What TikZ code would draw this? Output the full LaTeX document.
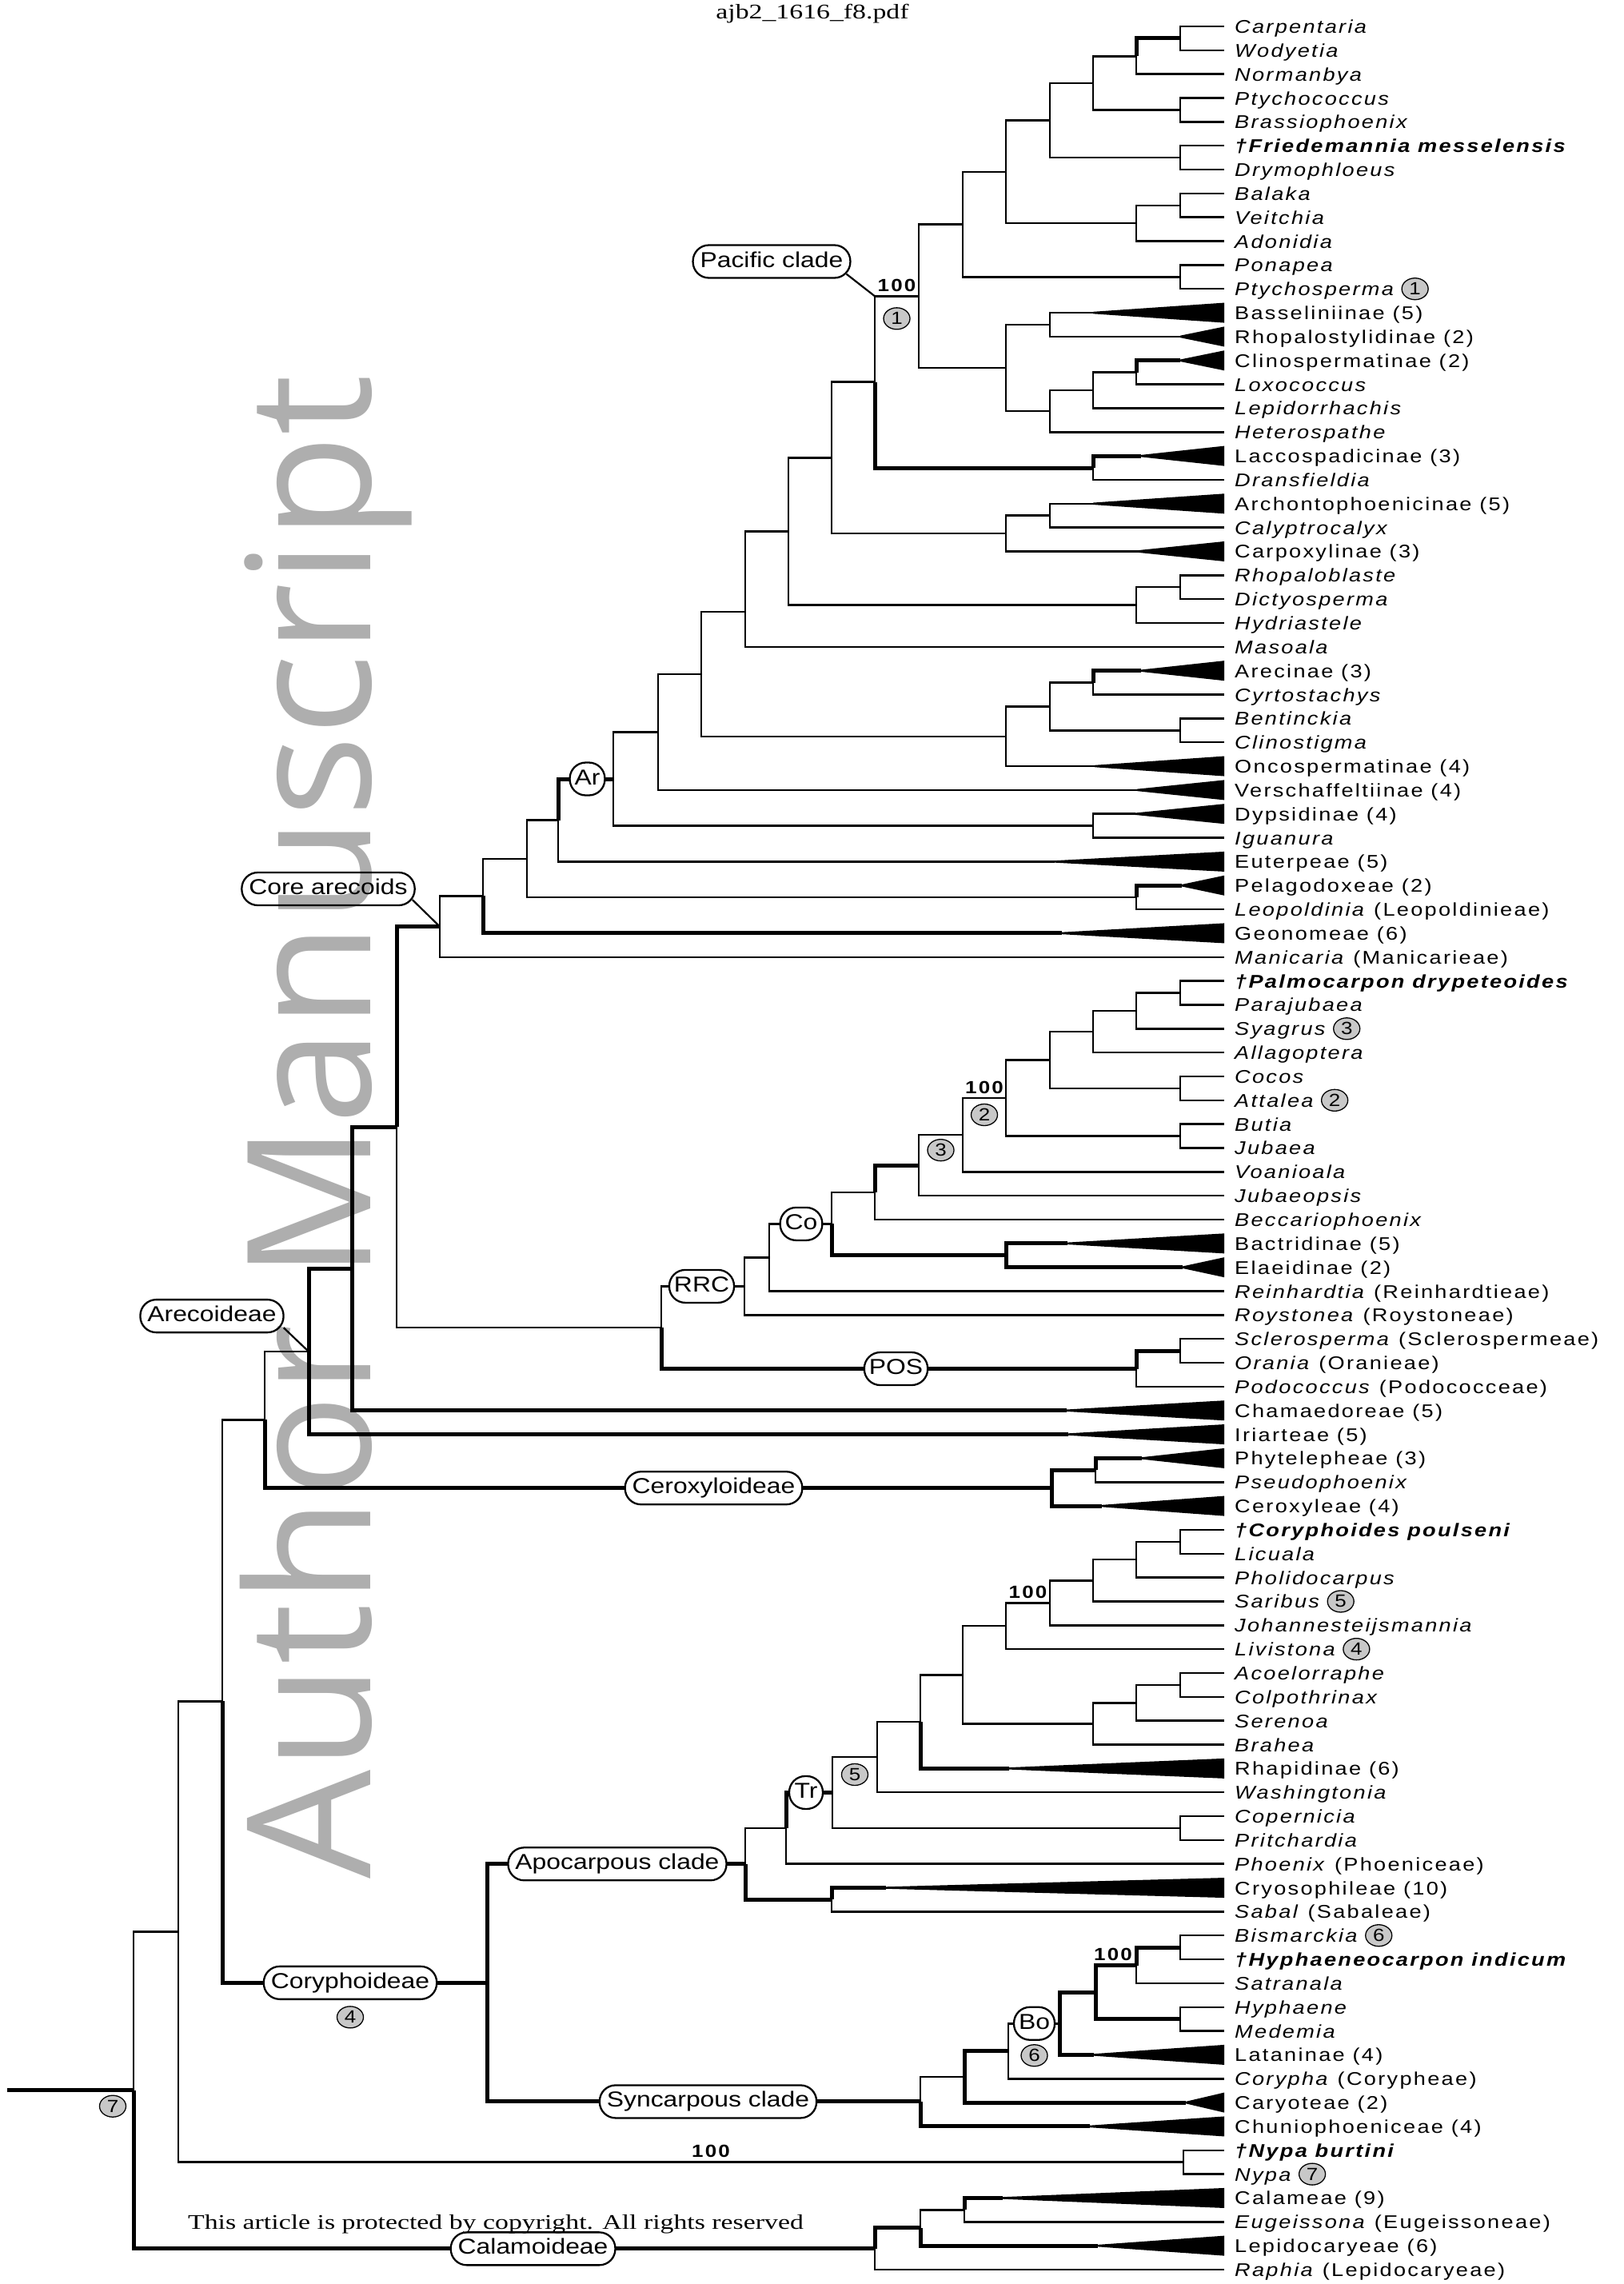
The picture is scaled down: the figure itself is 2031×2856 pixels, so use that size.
\documentclass[tikz,border=0pt]{standalone}
\usepackage{fontspec}
\usepackage{graphicx}
\usetikzlibrary{calc,shapes.geometric}
\setmainfont{Liberation Serif}
\newfontfamily\labfont{Liberation Sans}[FakeStretch=1.18,LetterSpace=10]
\newfontfamily\tagfont{Liberation Sans}[FakeStretch=1.18]
\newfontfamily\numfont{Liberation Sans}[FakeStretch=1.18]
\newfontfamily\wmfont{Open Sans}
\definecolor{wmgray}{RGB}{174,174,174}
\definecolor{numgray}{RGB}{200,200,200}
\newcommand\lfy[1]{33+(#1-1)*29.84}
\newcommand\leaf[2]{\coordinate (L#1) at (1531,{\lfy{#1}});
  \node[lab] (L#1t) at (1544,{\lfy{#1}+8.5}) {#2};}
\newcommand\tleaf[3]{\coordinate (L#1) at (#2,{\lfy{#1}});
  \fill ([yshift=1.25pt]L#1) -- (1531,{\lfy{#1}-12.5}) -- (1531,{\lfy{#1}+12.5}) -- ([yshift=-1.25pt]L#1) -- cycle;
  \node[lab] (L#1t) at (1544,{\lfy{#1}+8.5}) {#3};}
\newcommand\lnum[2]{\node[num,anchor=west] at ($(L#1t.east |- L#1)+(7,0)$) {#2};}
\newcommand\cl[6]{\path let \p1=(#3), \p2=(#5) in coordinate (#1) at (#2pt,{0.5*\y1+0.5*\y2});
  \draw[br,#4] (#1) |- (#3); \draw[br,#6] (#1) |- (#5);}
\newcommand\clY[7]{\coordinate (#1) at (#2,#3);
  \draw[br,#5] (#1) |- (#4); \draw[br,#7] (#1) |- (#6);}
\newcommand\fos[1]{\textbf{\textit{†#1}}}
\tikzset{
  br/.style={line width=2.5pt,line join=miter},
  bn/.style={line width=2.5pt},
  bk/.style={line width=5pt},
  lab/.style={anchor=base west,inner sep=0pt,font=\labfont\fontsize{23}{23}\selectfont},
  tag/.style={draw,line width=2.3pt,fill=white,rounded corners=20pt,minimum height=41pt,minimum width=42pt,
    inner xsep=6pt,inner ysep=0pt,text height=19.5pt,text depth=5.5pt,font=\tagfont\fontsize{27}{27}\selectfont},
  bigtag/.style={tag,inner xsep=9pt},
  num/.style={ellipse,draw,line width=1.3pt,fill=numgray,minimum width=33pt,minimum height=27pt,inner sep=0pt,
    font=\numfont\fontsize{22}{22}\selectfont},
  hund/.style={anchor=base,inner sep=0pt,font=\labfont\bfseries\fontsize{22}{22}\selectfont},
  ldr/.style={line width=2.2pt}
}
\begin{document}
\begin{tikzpicture}[x=1pt,y=-1pt]
\useasboundingbox (0,0) rectangle (2031,2856);
\fill[white] (0,0) rectangle (2031,2856);
% watermark
\node[rotate=90,anchor=base west,inner sep=0pt,text=wmgray,font=\wmfont\fontsize{215}{215}\selectfont] (wm) at (463,2350) {Author Manuscript};
% title
\node[inner sep=0pt,font=\fontsize{26}{26}\selectfont] (title) at (1016,17) {\scalebox{1.3}[1]{ajb2\_1616\_f8.pdf}};
% leaves
\leaf{1}{\textit{Carpentaria}}
\leaf{2}{\textit{Wodyetia}}
\leaf{3}{\textit{Normanbya}}
\leaf{4}{\textit{Ptychococcus}}
\leaf{5}{\textit{Brassiophoenix}}
\leaf{6}{\fos{Friedemannia messelensis}}
\leaf{7}{\textit{Drymophloeus}}
\leaf{8}{\textit{Balaka}}
\leaf{9}{\textit{Veitchia}}
\leaf{10}{\textit{Adonidia}}
\leaf{11}{\textit{Ponapea}}
\leaf{12}{\textit{Ptychosperma}}
\tleaf{13}{1367}{Basseliniinae (5)}
\tleaf{14}{1476}{Rhopalostylidinae (2)}
\tleaf{15}{1476}{Clinospermatinae (2)}
\leaf{16}{\textit{Loxococcus}}
\leaf{17}{\textit{Lepidorrhachis}}
\leaf{18}{\textit{Heterospathe}}
\tleaf{19}{1427}{Laccospadicinae (3)}
\leaf{20}{\textit{Dransfieldia}}
\tleaf{21}{1367}{Archontophoenicinae (5)}
\leaf{22}{\textit{Calyptrocalyx}}
\tleaf{23}{1422}{Carpoxylinae (3)}
\leaf{24}{\textit{Rhopaloblaste}}
\leaf{25}{\textit{Dictyosperma}}
\leaf{26}{\textit{Hydriastele}}
\leaf{27}{\textit{Masoala}}
\tleaf{28}{1427}{Arecinae (3)}
\leaf{29}{\textit{Cyrtostachys}}
\leaf{30}{\textit{Bentinckia}}
\leaf{31}{\textit{Clinostigma}}
\tleaf{32}{1369}{Oncospermatinae (4)}
\tleaf{33}{1422}{Verschaffeltiinae (4)}
\tleaf{34}{1420}{Dypsidinae (4)}
\leaf{35}{\textit{Iguanura}}
\tleaf{36}{1319}{Euterpeae (5)}
\tleaf{37}{1478}{Pelagodoxeae (2)}
\leaf{38}{\textit{Leopoldinia} (Leopoldinieae)}
\tleaf{39}{1328}{Geonomeae (6)}
\leaf{40}{\textit{Manicaria} (Manicarieae)}
\leaf{41}{\fos{Palmocarpon drypeteoides}}
\leaf{42}{\textit{Parajubaea}}
\leaf{43}{\textit{Syagrus}}
\leaf{44}{\textit{Allagoptera}}
\leaf{45}{\textit{Cocos}}
\leaf{46}{\textit{Attalea}}
\leaf{47}{\textit{Butia}}
\leaf{48}{\textit{Jubaea}}
\leaf{49}{\textit{Voanioala}}
\leaf{50}{\textit{Jubaeopsis}}
\leaf{51}{\textit{Beccariophoenix}}
\tleaf{52}{1335}{Bactridinae (5)}
\tleaf{53}{1479}{Elaeidinae (2)}
\leaf{54}{\textit{Reinhardtia} (Reinhardtieae)}
\leaf{55}{\textit{Roystonea} (Roystoneae)}
\leaf{56}{\textit{Sclerosperma} (Sclerospermeae)}
\leaf{57}{\textit{Orania} (Oranieae)}
\leaf{58}{\textit{Podococcus} (Podococceae)}
\tleaf{59}{1334}{Chamaedoreae (5)}
\tleaf{60}{1336}{Iriarteae (5)}
\tleaf{61}{1428}{Phytelepheae (3)}
\leaf{62}{\textit{Pseudophoenix}}
\tleaf{63}{1378}{Ceroxyleae (4)}
\leaf{64}{\fos{Coryphoides poulseni}}
\leaf{65}{\textit{Licuala}}
\leaf{66}{\textit{Pholidocarpus}}
\leaf{67}{\textit{Saribus}}
\leaf{68}{\textit{Johannesteijsmannia}}
\leaf{69}{\textit{Livistona}}
\leaf{70}{\textit{Acoelorraphe}}
\leaf{71}{\textit{Colpothrinax}}
\leaf{72}{\textit{Serenoa}}
\leaf{73}{\textit{Brahea}}
\tleaf{74}{1262}{Rhapidinae (6)}
\leaf{75}{\textit{Washingtonia}}
\leaf{76}{\textit{Copernicia}}
\leaf{77}{\textit{Pritchardia}}
\leaf{78}{\textit{Phoenix} (Phoeniceae)}
\tleaf{79}{1108}{Cryosophileae (10)}
\leaf{80}{\textit{Sabal} (Sabaleae)}
\leaf{81}{\textit{Bismarckia}}
\leaf{82}{\fos{Hyphaeneocarpon indicum}}
\leaf{83}{\textit{Satranala}}
\leaf{84}{\textit{Hyphaene}}
\leaf{85}{\textit{Medemia}}
\tleaf{86}{1368}{Lataninae (4)}
\leaf{87}{\textit{Corypha} (Corypheae)}
\tleaf{88}{1483}{Caryoteae (2)}
\tleaf{89}{1363}{Chuniophoeniceae (4)}
\leaf{90}{\fos{Nypa burtini}}
\leaf{91}{\textit{Nypa}}
\tleaf{92}{1254}{Calameae (9)}
\leaf{93}{\textit{Eugeissona} (Eugeissoneae)}
\tleaf{94}{1373}{Lepidocaryeae (6)}
\leaf{95}{\textit{Raphia} (Lepidocaryeae)}
\lnum{12}{1}\lnum{43}{3}\lnum{46}{2}\lnum{67}{5}\lnum{69}{4}\lnum{81}{6}\lnum{91}{7}
% Pacific clade and other core arecoids
\cl{CW}{1476}{L1}{bn}{L2}{bn}
\cl{CWN}{1421}{CW}{bk}{L3}{bn}
\cl{PB}{1476}{L4}{bn}{L5}{bn}
\cl{F}{1367}{CWN}{bn}{PB}{bn}
\cl{FD}{1476}{L6}{bn}{L7}{bn}
\cl{E}{1313}{F}{bn}{FD}{bn}
\cl{BV}{1476}{L8}{bn}{L9}{bn}
\cl{BVA}{1421}{BV}{bn}{L10}{bn}
\cl{D}{1258}{E}{bn}{BVA}{bn}
\cl{PP}{1476}{L11}{bn}{L12}{bn}
\cl{B}{1204}{D}{bn}{PP}{bn}
\cl{BR}{1313}{L13}{bn}{L14}{bn}
\cl{CL}{1421}{L15}{bk}{L16}{bn}
\cl{CLL}{1367}{CL}{bn}{L17}{bn}
\cl{CLLH}{1313}{CLL}{bn}{L18}{bn}
\cl{C}{1258}{BR}{bn}{CLLH}{bn}
\cl{A}{1149}{B}{bn}{C}{bn}
\cl{LD}{1367}{L19}{bk}{L20}{bn}
\cl{PC}{1094}{A}{bn}{LD}{bk}
\cl{AC}{1313}{L21}{bn}{L22}{bn}
\cl{ACC}{1258}{AC}{bn}{L23}{bn}
\cl{Kn9}{1040}{PC}{bn}{ACC}{bn}
\cl{RD}{1476}{L24}{bn}{L25}{bn}
\cl{RDH}{1421}{RD}{bn}{L26}{bn}
\cl{Kn10}{986}{Kn9}{bn}{RDH}{bn}
\clY{Kn11}{932}{765}{Kn10}{bn}{L27}{bn}
\cl{ArC}{1367}{L28}{bk}{L29}{bn}
\cl{BC}{1476}{L30}{bn}{L31}{bn}
\cl{ACBC}{1313}{ArC}{bn}{BC}{bn}
\cl{ARG}{1258}{ACBC}{bn}{L32}{bn}
\cl{Kn12}{877}{Kn11}{bn}{ARG}{bn}
\cl{Kn13}{823}{Kn12}{bn}{L33}{bn}
\cl{DI}{1367}{L34}{bn}{L35}{bn}
\cl{Kn14}{767}{Kn13}{bn}{DI}{bn}
\cl{Kn15}{698}{Kn14}{bk}{L36}{bn}
\cl{PL}{1421}{L37}{bk}{L38}{bn}
\cl{Kn16}{659}{Kn15}{bn}{PL}{bn}
\cl{Kn17}{604}{Kn16}{bn}{L39}{bk}
\cl{Kn18}{550}{Kn17}{bn}{L40}{bn}
% Cocoseae, RRC, POS
\cl{PaPa}{1476}{L41}{bn}{L42}{bn}
\cl{Cc2}{1421}{PaPa}{bn}{L43}{bn}
\cl{Cc3}{1367}{Cc2}{bn}{L44}{bn}
\cl{CA}{1476}{L45}{bn}{L46}{bn}
\cl{Cc4}{1313}{Cc3}{bn}{CA}{bn}
\cl{BJ}{1476}{L47}{bn}{L48}{bn}
\cl{Cc5}{1258}{Cc4}{bn}{BJ}{bn}
\cl{Cc6}{1204}{Cc5}{bn}{L49}{bn}
\cl{Cc7}{1149}{Cc6}{bn}{L50}{bn}
\cl{Cc8}{1094}{Cc7}{bk}{L51}{bn}
\cl{BE}{1258}{L52}{bk}{L53}{bk}
\cl{Cc9}{1040}{Cc8}{bn}{BE}{bk}
\cl{Cc10}{962}{Cc9}{bn}{L54}{bn}
\cl{RRC}{931}{Cc10}{bn}{L55}{bn}
\cl{SO}{1476}{L56}{bn}{L57}{bn}
\cl{POS}{1421}{SO}{bk}{L58}{bn}
\cl{RP}{827}{RRC}{bn}{POS}{bk}
\cl{Kn19}{496}{Kn18}{bk}{RP}{bn}
\cl{Kn20}{440}{Kn19}{bk}{L59}{bk}
\cl{Kn21}{386}{Kn20}{bk}{L60}{bk}
\cl{PhPs}{1370}{L61}{bk}{L62}{bn}
\cl{CER}{1315}{PhPs}{bk}{L63}{bk}
\cl{Kn22}{331}{Kn21}{bn}{CER}{bk}
% Coryphoideae
\cl{CoLi}{1476}{L64}{bn}{L65}{bn}
\cl{Tt2}{1421}{CoLi}{bn}{L66}{bn}
\cl{Tt3}{1367}{Tt2}{bn}{L67}{bn}
\cl{Tt4}{1313}{Tt3}{bn}{L68}{bn}
\cl{Tt5}{1258}{Tt4}{bn}{L69}{bn}
\cl{AcCo}{1476}{L70}{bn}{L71}{bn}
\cl{AcS}{1421}{AcCo}{bn}{L72}{bn}
\cl{AcB}{1367}{AcS}{bn}{L73}{bn}
\cl{Tt6}{1204}{Tt5}{bn}{AcB}{bn}
\cl{Tt7}{1151}{Tt6}{bn}{L74}{bk}
\cl{Tt8}{1097}{Tt7}{bn}{L75}{bn}
\cl{CP}{1476}{L76}{bn}{L77}{bn}
\cl{TR}{1041}{Tt8}{bn}{CP}{bn}
\cl{Tt10}{983}{TR}{bk}{L78}{bn}
\cl{CS}{1040}{L79}{bk}{L80}{bn}
\cl{APO}{932}{Tt10}{bn}{CS}{bk}
\cl{BH}{1476}{L81}{bn}{L82}{bn}
\cl{Ss2}{1421}{BH}{bk}{L83}{bn}
\cl{HM}{1476}{L84}{bn}{L85}{bn}
\cl{Ss3}{1370}{Ss2}{bk}{HM}{bk}
\cl{BO}{1325}{Ss3}{bk}{L86}{bk}
\cl{BP}{1261}{BO}{bn}{L87}{bn}
\cl{Ss6}{1206}{BP}{bk}{L88}{bk}
\cl{SYN}{1151}{Ss6}{bn}{L89}{bk}
\cl{CORY}{609}{APO}{bk}{SYN}{bk}
\cl{Kn23}{278}{Kn22}{bn}{CORY}{bk}
\cl{NN}{1480}{L90}{bn}{L91}{bn}
\cl{Kn24}{223}{Kn23}{bn}{NN}{bn}
% Calamoideae and root
\cl{CE}{1206}{L92}{bk}{L93}{bn}
\cl{CEL}{1151}{CE}{bn}{L94}{bk}
\cl{CAL}{1094}{CEL}{bk}{L95}{bn}
\cl{ROOT}{167}{Kn24}{bn}{CAL}{bk}
\coordinate (STEM) at ($(ROOT)+(-158,0)$);
\draw[br,bk] (STEM) -- (ROOT);
% branch tags
\node[tag] (artag) at ([xshift=-32.5pt]Kn14) {Ar};
\node[tag] (cotag) at ([xshift=-38pt]Cc9) {Co};
\node[tag] (rrctag) at ([xshift=-53.5pt]RRC) {RRC};
\node[tag] (postag) at ([xshift=-300.5pt]POS) {POS};
\node[tag] (trtag) at ([xshift=-33pt]TR) {Tr};
\node[tag] (botag) at ([xshift=-31.5pt]BO) {Bo};
\node[bigtag] (certag) at ([xshift=-422.5pt]CER) {Ceroxyloideae};
\node[bigtag] (apotag) at ([xshift=-160pt]APO) {Apocarpous clade};
\node[bigtag] (corytag) at ([xshift=-171pt]CORY) {Coryphoideae};
\node[bigtag] (syntag) at ([xshift=-265.5pt]SYN) {Syncarpous clade};
\node[bigtag] (caltag) at ([xshift=-427.4pt]CAL) {Calamoideae};
% leader tags
\node[bigtag,fill=none] (pactag) at (965,327) {Pacific clade};
\node[bigtag,fill=none] (coretag) at (410.5,1111.5) {Core arecoids};
\node[bigtag,fill=none] (aretag) at (265,1645.6) {Arecoideae};
\draw[ldr] ([shift={(-6,-6)}]pactag.south east) -- (PC |- A);
\draw[ldr] ([shift={(-4,-8)}]coretag.south east) -- (Kn18);
\draw[ldr] ([shift={(-1,-7)}]aretag.south east) -- (Kn21);
% support values and numbered markers
\node[hund] at ($(PC |- A)+(27.5,-6)$) {100};
\node[num] at ($(PC |- A)+(27.5,28)$) {1};
\node[hund] at ($(Cc6 |- Cc5)+(27,-6)$) {100};
\node[num] at ($(Cc6 |- Cc5)+(27,21)$) {2};
\node[num] at ($(Cc7 |- Cc6)+(27.5,19)$) {3};
\node[num] at ($(corytag)+(0,43)$) {4};
\node[num] at ($(TR |- Tt8)+(28,22)$) {5};
\node[num] at ($(botag)+(0,40)$) {6};
\node[num] at ($(ROOT)+(-26,20)$) {7};
\node[hund] at ($(Tt5 |- Tt4)+(27.5,-6)$) {100};
\node[hund] at ($(Ss3 |- Ss2)+(22,-6)$) {100};
\node[hund] at ($(Kn24 |- NN)+(666,-6)$) {100};
% footer
\node[inner sep=0pt,font=\fontsize{26}{26}\selectfont] (footer) at (620,2781.5) {\scalebox{1.3}[1]{This article is protected by copyright. All rights reserved}};
\end{tikzpicture}
\end{document}
